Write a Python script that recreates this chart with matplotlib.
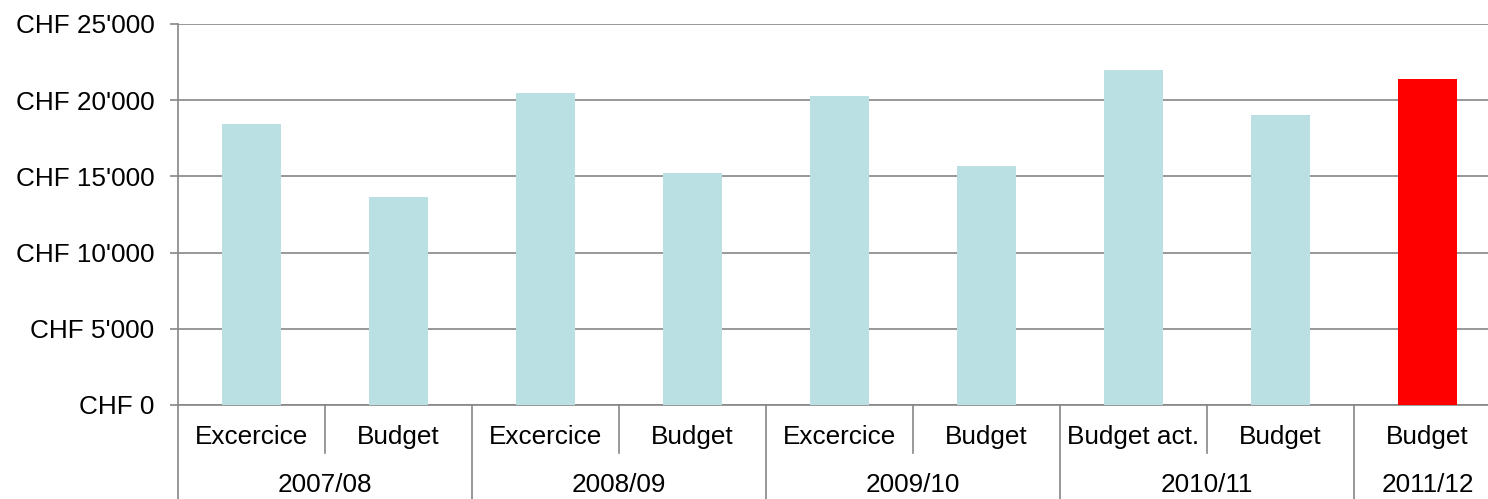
import matplotlib
matplotlib.use("Agg")
import matplotlib.pyplot as plt
import matplotlib.transforms as mtransforms
from matplotlib.ticker import FuncFormatter

# Data
items = ["Excercice", "Budget", "Excercice", "Budget", "Excercice", "Budget",
         "Budget act.", "Budget", "Budget"]
years = ["2007/08", "2008/09", "2009/10", "2010/11", "2011/12"]
year_sizes = [2, 2, 2, 2, 1]
values = [18450, 13650, 20470, 15200, 20280, 15680, 22000, 19010, 21390]
highlight = [False, False, False, False, False, False, False, False, True]

plt.rcParams["font.family"] = ["Liberation Sans", "DejaVu Sans"]
FS = 18.8
GRID = "#868686"
BAR = "#bbe0e3"
RED = "#ff0000"
LW = 1.2

fig = plt.figure(figsize=(14.88, 4.99), dpi=100)
ax = fig.add_axes([178 / 1488, 1 - 405 / 499, 1323 / 1488, 381 / 499])

x = list(range(len(values)))
colors = [RED if h else BAR for h in highlight]
ax.bar(x, values, width=0.40, color=colors, zorder=3)

ax.set_xlim(-0.5, len(values) - 0.5)
ax.set_ylim(0, 25000)
ax.set_yticks(range(0, 25001, 5000))


def chf(v, _):
    return "CHF " + f"{int(v):,}".replace(",", "'")


ax.yaxis.set_major_formatter(FuncFormatter(chf))
ax.grid(axis="y", color=GRID, linewidth=LW, zorder=1)
ax.tick_params(axis="y", length=6, width=LW, color=GRID, pad=11,
               labelsize=FS, labelcolor="black")
ax.tick_params(axis="x", length=0, labelbottom=False)

for s in ("top", "right"):
    ax.spines[s].set_visible(False)
for s in ("left", "bottom"):
    ax.spines[s].set_color(GRID)
    ax.spines[s].set_linewidth(LW)

trans = mtransforms.blended_transform_factory(ax.transData, ax.transAxes)
h_px = 381
short_end = -(453 - 405) / h_px
long_end = -(499 - 405) / h_px - 0.01
row1_y = -(437 - 405) / h_px
row2_y = -(485 - 405) / h_px

# Item labels
for i, name in enumerate(items):
    ax.text(i, row1_y, name, transform=trans, ha="center", va="center",
            fontsize=FS, color="black")

# Year labels and separators
start = 0
for yr, n in zip(years, year_sizes):
    center = start + (n - 1) / 2
    ax.text(center, row2_y, yr, transform=trans, ha="center", va="center",
            fontsize=FS, color="black")
    ax.plot([start - 0.5, start - 0.5], [0, long_end], transform=trans,
            color=GRID, linewidth=LW, clip_on=False)
    for k in range(1, n):
        b = start + k - 0.5
        ax.plot([b, b], [0, short_end], transform=trans,
                color=GRID, linewidth=LW, clip_on=False)
    start += n
ax.plot([start - 0.5, start - 0.5], [0, long_end], transform=trans,
        color=GRID, linewidth=LW, clip_on=False)

fig.savefig("out.png", dpi=100)
